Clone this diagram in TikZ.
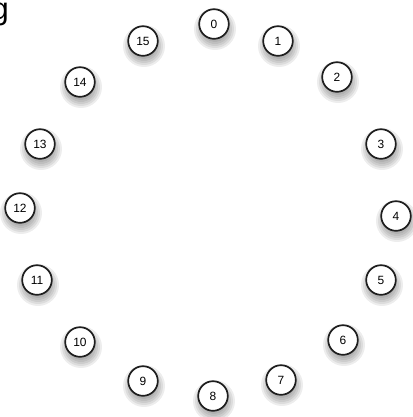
\documentclass[tikz,border=0pt]{standalone}
\usepackage{fontspec}
\setsansfont{Liberation Sans}
\usepackage{tikz}
\definecolor{rimcolor}{HTML}{1E1E1E}

\begin{document}
\begin{tikzpicture}[
    x=0.025cm, y=-0.025cm,
    slot/.style={circle, draw=rimcolor, line width=1.2pt,
                 fill=white, minimum size=0.74cm, inner sep=0pt,
                 font=\sffamily\fontsize{8.5}{10}\selectfont},
    blur/.style={fill=black, opacity=0.07},
    letter/.style={font=\sffamily\fontsize{22}{24}\selectfont, inner sep=0pt}
]
\useasboundingbox (0,0) rectangle (413,417);
\clip (0,0) rectangle (413,417);
\node[letter, anchor=base east] (cut) at (9,19) {g};

\foreach \n/\x/\y in {0/214/24, 1/278/41, 2/337/77, 3/381/144,
                      4/396/216, 5/381/280, 6/343/340, 7/281/380,
                      8/213/396, 9/143/381, 10/80/342, 11/37/280,
                      12/20/208, 13/40/144, 14/80/82, 15/143/41}
{
    % soft shadow under each slot
    \foreach \r in {13,15,...,21}
        \fill[blur] (\x+1,\y+5) circle (\r);
    \node[slot] (n\n) at (\x,\y) {\n};
}
\end{tikzpicture}
\end{document}
